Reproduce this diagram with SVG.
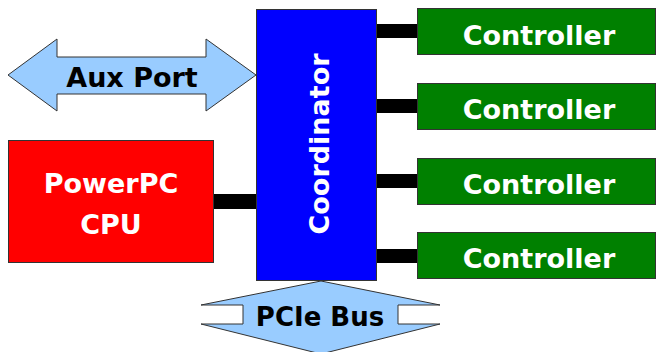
<svg xmlns="http://www.w3.org/2000/svg" width="657" height="352" viewBox="0 0 657 352">
<style>
text{font-family:"DejaVu Sans","Verdana",sans-serif;font-weight:bold;text-anchor:middle}
.w{fill:#ffffff}
.k{fill:#000000}
.arrow{fill:#99ccff;stroke:#333333;stroke-width:1}
.box{stroke:#333333;stroke-width:1}
</style>
<rect width="657" height="352" fill="#ffffff"/>
<g id="connectors" fill="#000000">
<rect x="213" y="194" width="43" height="15"/>
<rect x="376" y="24" width="41" height="14"/>
<rect x="376" y="99" width="41" height="14"/>
<rect x="376" y="174" width="41" height="14"/>
<rect x="376" y="249" width="41" height="14"/>
</g>
<g id="aux-port">
<polygon class="arrow" points="8,75 57,39 57,57 206,57 206,39 256,75 206,111 206,94 57,94 57,111"/>
<text class="k" x="132" y="87" font-size="27">Aux Port</text>
</g>
<g id="pcie-bus">
<polygon class="arrow" points="321,281 440,305 398,305 398,324 440,324 321,354 201,324 243,324 243,305 201,305"/>
<text class="k" x="320" y="326" font-size="26">PCIe Bus</text>
</g>
<g id="cpu">
<rect class="box" x="8.5" y="140.5" width="205" height="122" fill="#ff0000"/>
<text class="w" x="111" y="193" font-size="27">PowerPC</text>
<text class="w" x="111" y="234" font-size="27">CPU</text>
</g>
<g id="coordinator">
<rect class="box" x="256.5" y="9.5" width="120" height="271" fill="#0000ff"/>
<text class="w" transform="translate(329,144) rotate(-90)" x="0" y="0" font-size="27">Coordinator</text>
</g>
<g id="controller1">
<rect class="box" x="417.5" y="8.5" width="238" height="46" fill="#008000"/>
<text class="w" x="539" y="45" font-size="27">Controller</text>
</g>
<g id="controller2">
<rect class="box" x="417.5" y="83.5" width="238" height="46" fill="#008000"/>
<text class="w" x="539" y="119" font-size="27">Controller</text>
</g>
<g id="controller3">
<rect class="box" x="417.5" y="158.5" width="238" height="46" fill="#008000"/>
<text class="w" x="539" y="194" font-size="27">Controller</text>
</g>
<g id="controller4">
<rect class="box" x="417.5" y="232.5" width="238" height="46" fill="#008000"/>
<text class="w" x="539" y="268" font-size="27">Controller</text>
</g>
</svg>
